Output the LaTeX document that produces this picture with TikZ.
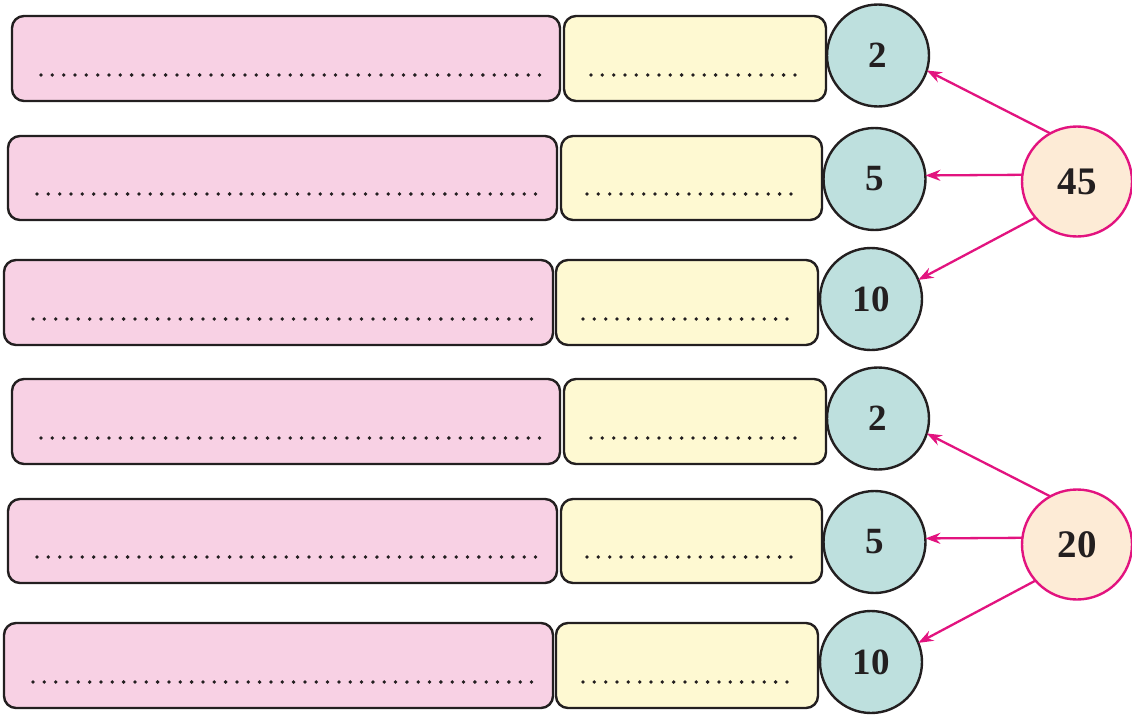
\documentclass[tikz,border=0pt]{standalone}
\usepackage{fontspec}
\setmainfont{Liberation Serif}
\usetikzlibrary{arrows.meta}
\definecolor{pinkbox}{HTML}{F8D1E4}
\definecolor{yellowbox}{HTML}{FEF9D2}
\definecolor{tealc}{HTML}{BEE0DE}
\definecolor{peachc}{HTML}{FDEBD6}
\definecolor{magentaline}{HTML}{E2137F}
\definecolor{darkline}{HTML}{231F20}
\tikzset{
  pinkrect/.style={draw=darkline, line width=2.4pt, fill=pinkbox, rounded corners=12pt},
  yellowrect/.style={draw=darkline, line width=2.4pt, fill=yellowbox, rounded corners=12pt},
  dotline/.style={darkline, line width=3.8pt, line cap=round, dash pattern=on 0pt off 11.33pt},
  numcirc/.style={circle, draw=darkline, line width=2.4pt, fill=tealc, minimum size=102pt, inner sep=0pt, outer sep=0pt, font=\fontsize{37}{37}\selectfont\bfseries, text=darkline},
  srccirc/.style={circle, draw=magentaline, line width=2.4pt, fill=peachc, minimum size=110pt, inner sep=0pt, outer sep=0pt, font=\fontsize{39}{39}\selectfont\bfseries, text=darkline},
  pointer/.style={draw=magentaline, line width=2.3pt, -{Stealth[length=15pt, width=11pt]}}
}
\begin{document}
\begin{tikzpicture}[x=1pt, y=-1pt]
\useasboundingbox (0,0) rectangle (1132,717);
\foreach \grp/\dy in {a/0, b/363} {
  % row 1
  \draw[pinkrect] (12,16+\dy) rectangle (560,101+\dy);
  \draw[yellowrect] (564,16+\dy) rectangle (826,101+\dy);
  \draw[dotline] (41,75+\dy) -- (540,75+\dy);
  \draw[dotline] (591,75+\dy) -- (799,75+\dy);
  % row 2
  \draw[pinkrect] (8,136+\dy) rectangle (557,220+\dy);
  \draw[yellowrect] (561,136+\dy) rectangle (822,220+\dy);
  \draw[dotline] (37,194+\dy) -- (536,194+\dy);
  \draw[dotline] (587,194+\dy) -- (795,194+\dy);
  % row 3
  \draw[pinkrect] (4,260+\dy) rectangle (553,345+\dy);
  \draw[yellowrect] (556,260+\dy) rectangle (818,345+\dy);
  \draw[dotline] (33,319+\dy) -- (532,319+\dy);
  \draw[dotline] (583,319+\dy) -- (791,319+\dy);
}
% top group
\node[numcirc] (t2) at (878,55.5) {2};
\node[numcirc] (t5) at (874.5,179) {5};
\node[numcirc] (t10) at (871,299) {10};
\node[srccirc] (t45) at (1077,181.5) {45};
\draw[pointer] (t45.119) -- (t2.-17);
\draw[pointer] (t45.173) -- (t5.4.5);
\draw[pointer] (t45.221.7) -- (t10.22);
% bottom group
\node[numcirc] (b2) at (878,418.5) {2};
\node[numcirc] (b5) at (874.5,542) {5};
\node[numcirc] (b10) at (871,662) {10};
\node[srccirc] (b20) at (1077,544.5) {20};
\draw[pointer] (b20.119) -- (b2.-17);
\draw[pointer] (b20.173) -- (b5.4.5);
\draw[pointer] (b20.221.7) -- (b10.22);
\end{tikzpicture}
\end{document}
